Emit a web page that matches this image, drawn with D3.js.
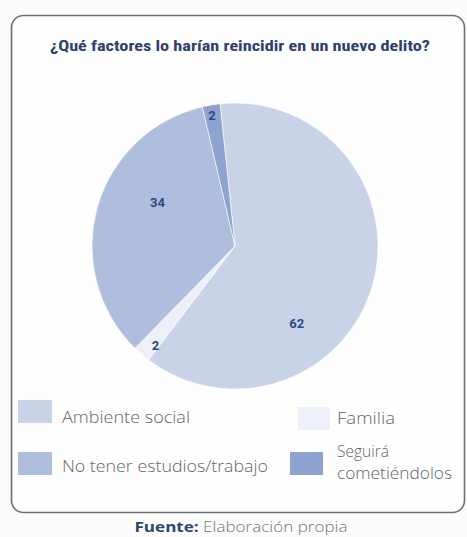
<!DOCTYPE html>
<html>
<head>
<meta charset="utf-8">
<script src="https://cdn.jsdelivr.net/npm/d3@7/dist/d3.min.js"></script>
<style>
  html, body { margin: 0; padding: 0; background: #fcfcfb; }
  svg { display: block; }
</style>
</head>
<body>
<svg id="chart" width="467" height="537"></svg>
<script>
// Survey answers (percent)
const categories = ["Ambiente social", "Familia", "No tener estudios/trabajo", "Seguirá cometiéndolos"];
const values = [62, 2, 34, 2];
const colors = ["#c8d3e8", "#edf0f8", "#afbedd", "#8ea3cf"];
const legendLines = [["Ambiente social"], ["Familia"], ["No tener estudios/trabajo"], ["Seguirá", "cometiéndolos"]];

const title = "¿Qué factores lo harían reincidir en un nuevo delito?";

const svg = d3.select("#chart");

// Frame
svg.append("rect")
  .attr("x", 11.5).attr("y", 15.5)
  .attr("width", 453).attr("height", 497)
  .attr("rx", 12).attr("ry", 12)
  .attr("fill", "#fefefe")
  .attr("stroke", "#6b6f78")
  .attr("stroke-width", 1.6);

// Title
svg.append("text")
  .attr("x", 240).attr("y", 51)
  .attr("text-anchor", "middle")
  .attr("font-family", "'Roboto Condensed','Liberation Sans Narrow','Roboto', sans-serif")
  .attr("font-weight", "bold")
  .attr("font-size", 14.5)
  .attr("textLength", 380)
  .attr("lengthAdjust", "spacingAndGlyphs")
  .attr("fill", "#2f3f6e")
  .text(title);

// Pie
const cx = 235, cy = 246, r = 143;
const data = categories.map((c, i) => ({ name: c, value: values[i], color: colors[i] }));
const startOffset = -6 * Math.PI / 180;
const pie = d3.pie().value(d => d.value).sort(null)
  .startAngle(startOffset).endAngle(2 * Math.PI + startOffset);
const arcs = pie(data);
const arc = d3.arc().innerRadius(0).outerRadius(r);

const g = svg.append("g").attr("transform", `translate(${cx},${cy})`);
g.selectAll("path.slice")
  .data(arcs)
  .join("path")
  .attr("class", "slice")
  .attr("d", arc)
  .attr("fill", d => d.data.color)
  .attr("stroke", "#ffffff")
  .attr("stroke-width", 0.6);

// Value labels: position inside each slice as (fraction of sweep, fraction of radius)
const labelAt = [[0.66, 0.69], [0.2, 0.89], [0.61, 0.62], [0.45, 0.93]];
g.selectAll("text.val")
  .data(arcs)
  .join("text")
  .attr("class", "val")
  .attr("transform", (d, i) => {
    const a = d.startAngle + (d.endAngle - d.startAngle) * labelAt[i][0];
    const rr = r * labelAt[i][1];
    return `translate(${Math.sin(a) * rr},${-Math.cos(a) * rr})`;
  })
  .attr("text-anchor", "middle")
  .attr("dy", "0.35em")
  .attr("font-family", "'Roboto', 'DejaVu Sans', sans-serif")
  .attr("font-weight", "bold")
  .attr("font-size", 13)
  .attr("fill", "#2c4a82")
  .text(d => d.data.value);

// Legend
const legendPos = [
  { x: 18, y: 400, w: 34, h: 23, tx: 62, ty: 423, tw: [128] },
  { x: 298, y: 407, w: 32, h: 23, tx: 337, ty: 424, tw: [58] },
  { x: 18, y: 452, w: 34, h: 23, tx: 62, ty: 472, tw: [206] },
  { x: 290, y: 452, w: 33, h: 23, tx: 337, ty: 457, tw: [null, 115] }
];
const leg = svg.append("g");
data.forEach((d, i) => {
  const p = legendPos[i];
  leg.append("rect")
    .attr("x", p.x).attr("y", p.y)
    .attr("width", p.w).attr("height", p.h)
    .attr("fill", d.color);
  legendLines[i].forEach((ln, j) => {
    const t = leg.append("text")
      .attr("x", p.tx).attr("y", p.ty + j * 22)
      .attr("font-family", "'Open Sans', 'DejaVu Sans', sans-serif")
      .attr("font-weight", 300)
      .attr("font-size", 15.5)
      .attr("fill", "#62656d")
      .text(ln);
    if (p.tw[j]) {
      t.attr("textLength", p.tw[j]).attr("lengthAdjust", "spacingAndGlyphs");
    }
  });
});

// Source
const src = svg.append("text")
  .attr("x", 241).attr("y", 532)
  .attr("text-anchor", "middle")
  .attr("font-family", "'Open Sans', 'DejaVu Sans', sans-serif")
  .attr("font-size", 14)
  .attr("textLength", 213)
  .attr("lengthAdjust", "spacingAndGlyphs");
src.append("tspan").attr("font-weight", "bold").attr("fill", "#2c4478").text("Fuente: ");
src.append("tspan").attr("font-weight", 300).attr("fill", "#707379").text("Elaboración propia");
</script>
</body>
</html>
